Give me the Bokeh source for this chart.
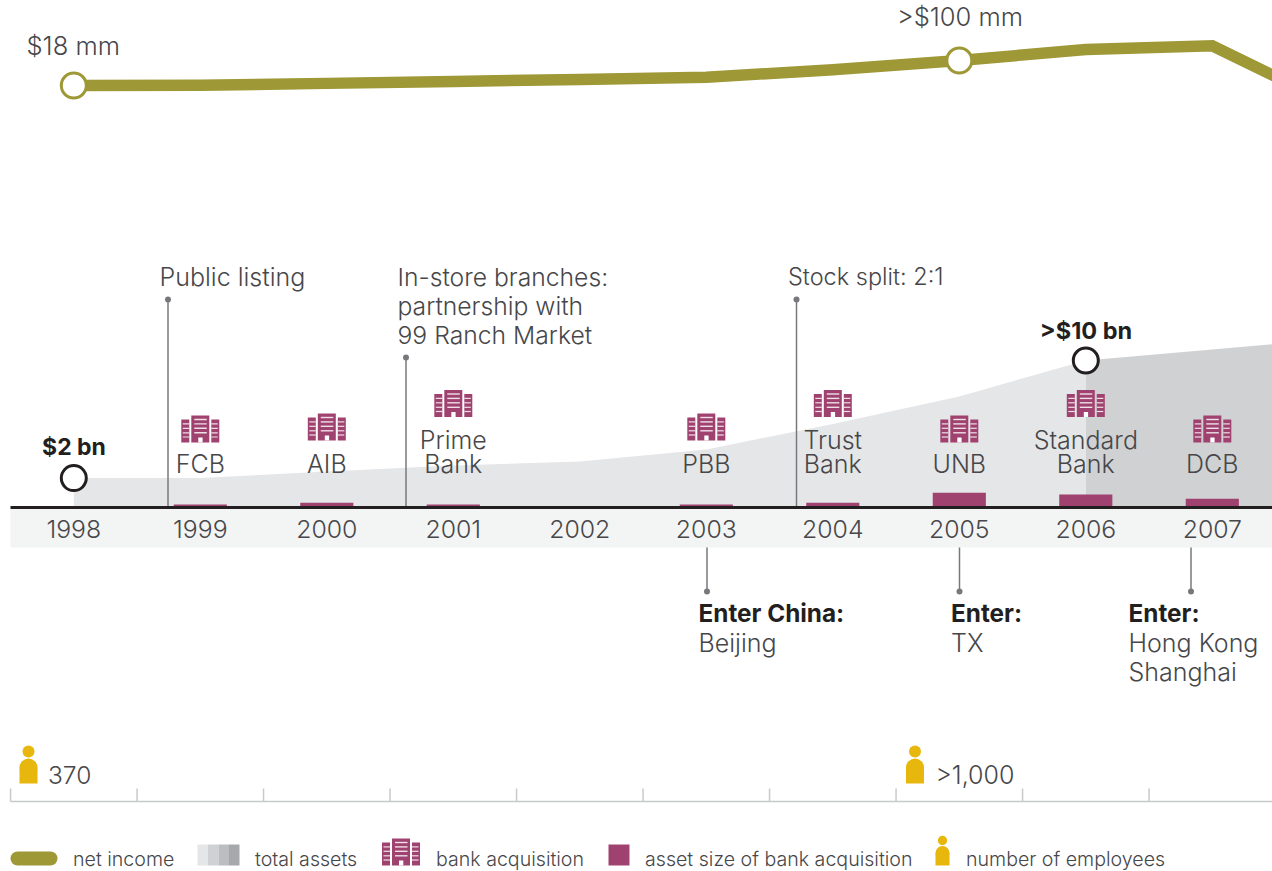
from bokeh.core.properties import value
from bokeh.embed import file_html
from bokeh.models import ColumnDataSource, Range1d
from bokeh.plotting import figure
from bokeh.resources import INLINE

# ---- chart data ----
YEARS = [1998, 1999, 2000, 2001, 2002, 2003, 2004, 2005, 2006, 2007]

INCOME_YEARS = [1998, 1999, 2000, 2001, 2002, 2003, 2004, 2005, 2006, 2007, 2008]
NET_INCOME_MM = [18, 19, 25, 31, 38, 45, 70, 100, 136, 148, -54]

ASSET_YEARS = [1998, 1999, 2000, 2001, 2002, 2003, 2004, 2005, 2006, 2007, 2008]
TOTAL_ASSETS_BN = [2.0, 2.0, 2.45, 2.86, 3.13, 3.95, 5.68, 7.55, 10.0, 10.75, 11.5]

DEAL_YEARS = [1999, 2000, 2001, 2003, 2004, 2005, 2006, 2007]
DEAL_NAMES = [["FCB"], ["AIB"], ["Prime", "Bank"], ["PBB"], ["Trust", "Bank"], ["UNB"], ["Standard", "Bank"], ["DCB"]]
DEAL_ASSETS_BN = [0.2, 0.33, 0.2, 0.2, 0.33, 1.0, 0.88, 0.6]

UP_EVENTS = [(167.5, 299, ["Public listing"], 25), (405.5, 357, ["In-store branches:", "partnership with", "99 Ranch Market"], 24.7), (796, 299, ["Stock split: 2:1"], 23.5)]
DOWN_EVENTS = [(706.5, 698, "Enter China:", ["Beijing"]), (959, 950.5, "Enter:", ["TX"]), (1190.5, 1128, "Enter:", ["Hong Kong", "Shanghai"])]

# ---- palette and fonts ----
OLIVE = "#9e9836"
PLUM = "#a0426f"
GOLD = "#e8b70d"
INK = "#231f20"
TEXT = "#47474a"
STEM = "#77787b"
RULE = "#c8c9cb"
ASSET_SHADES = ["#e5e6e8", "#d0d1d3", "#bcbdc0", "#a7a8ab"]
FONT = "Inter Light"
BOLD_FONT = "Inter"

W, H = 1272, 871
YEAR_PX = 126.5
X0_PX = 73.3
BASE_PX = 507.0
ASSET_PX = 14.7
INCOME_ZERO_PX = 90.5
INCOME_PX = 0.305


def year_px(y):
    return X0_PX + (y - 1998) * YEAR_PX


p = figure(width=W, height=H, output_backend="svg", toolbar_location=None,
           x_range=Range1d(0, W), y_range=Range1d(H, 0), min_border=0,
           x_axis_location=None, y_axis_location=None)
p.outline_line_color = None
p.grid.visible = False
p.background_fill_color = "#ffffff"
p.border_fill_color = "#ffffff"

# data scales sharing the page frame
p.extra_x_ranges["year"] = Range1d(1998 - X0_PX / YEAR_PX, 1998 + (W - X0_PX) / YEAR_PX)
p.extra_y_ranges["assets"] = Range1d((BASE_PX - H) / ASSET_PX, BASE_PX / ASSET_PX)
p.extra_y_ranges["income"] = Range1d((INCOME_ZERO_PX - H) / INCOME_PX, INCOME_ZERO_PX / INCOME_PX)


def label(x, y, s, size=25, font=FONT, color=TEXT, align="left", style="normal"):
    p.text([x], [y - 1], text=[s], text_font=value(font), text_font_size=f"{size}px",
           text_color=color, text_align=align, text_baseline="middle", text_font_style=style)


def building(cx, top, scale=1.0):
    """Bank icon: a tower between two wings with light window stripes."""
    def X(d):
        return cx + d * scale

    def Y(d):
        return top + d * scale
    p.quad(left=[X(-19), X(-9), X(11)], right=[X(-11), X(9), X(19)],
           top=[Y(4), Y(0), Y(4)], bottom=[Y(27), Y(27), Y(27)], fill_color=PLUM, line_color=None)
    stripes_c = [4, 8.4, 12.8, 17.3]
    p.quad(left=[X(-6)] * 4, right=[X(6.5)] * 4, top=[Y(d - 0.7) for d in stripes_c],
           bottom=[Y(d + 0.7) for d in stripes_c], fill_color="#efdfe7", line_color=None)
    stripes_w = [8.4, 12.8, 17.3, 21.5]
    for a, b in ((-17.5, -11), (11, 17.5)):
        p.quad(left=[X(a)] * 4, right=[X(b)] * 4, top=[Y(d - 0.6) for d in stripes_w],
               bottom=[Y(d + 0.6) for d in stripes_w], fill_color="#efdfe7", line_color=None)
    p.quad(left=[X(-2)], right=[X(2.3)], top=[Y(22)], bottom=[Y(27)], fill_color="#ffffff", line_color=None)


def person(cx, head_y, foot_y, scale=1.0):
    """Employee icon: round head over a body with a domed top."""
    r = 9 * scale
    top = head_y + 7 * scale
    p.circle([cx], [head_y], radius=6 * scale, fill_color=GOLD, line_color=None)
    p.quad(left=[cx - r], right=[cx + r], top=[top + r], bottom=[foot_y], fill_color=GOLD, line_color=None)
    p.circle([cx], [top + r], radius=r, fill_color=GOLD, line_color=None)


# total assets: lighter through 2006, darker afterwards
split = ASSET_YEARS.index(2006)
p.varea(x=ASSET_YEARS[:split + 1], y1=[0] * (split + 1), y2=TOTAL_ASSETS_BN[:split + 1],
        x_range_name="year", y_range_name="assets", fill_color=ASSET_SHADES[0])
p.varea(x=ASSET_YEARS[split:], y1=[0] * (len(ASSET_YEARS) - split), y2=TOTAL_ASSETS_BN[split:],
        x_range_name="year", y_range_name="assets", fill_color=ASSET_SHADES[1])

# year band
p.quad(left=[10], right=[W], top=[508], bottom=[547], fill_color="#f3f4f4", line_color=None)

# event stems above the axis
for x, top, lines, size in UP_EVENTS:
    p.segment([x], [top], [x], [BASE_PX], line_color=STEM, line_width=1.5)
    p.circle([x], [top], radius=3, fill_color=STEM, line_color=None)
    for i, s in enumerate(lines):
        label(x - 8.5, 277 + i * 29.3, s, size=size)

# acquisition size bars
deals = ColumnDataSource(dict(x=DEAL_YEARS, top=DEAL_ASSETS_BN, bottom=[0] * len(DEAL_YEARS)))
p.vbar(x="x", top="top", bottom="bottom", width=0.42, source=deals, x_range_name="year",
       y_range_name="assets", fill_color=PLUM, line_color=None)

# axis baseline
p.segment([10], [BASE_PX], [W], [BASE_PX], line_color=INK, line_width=3)

# acquisitions: icon plus name
ICON_TOPS = {1: 415, 2: 389.5}
for year, names in zip(DEAL_YEARS, DEAL_NAMES):
    cx = year_px(year)
    top = 413 if year in (2000, 2003) else ICON_TOPS[len(names)]
    building(cx, top)
    for i, s in enumerate(reversed(names)):
        label(cx, 464 - i * 24, s, align="center")

# year labels
for y in YEARS:
    label(year_px(y), 529, str(y), size=24.8, align="center")

# net income line
p.line(INCOME_YEARS, NET_INCOME_MM, x_range_name="year", y_range_name="income",
       line_color=OLIVE, line_width=11.5, line_join="miter")
p.scatter([1998, 2005], [18, 100], x_range_name="year", y_range_name="income", size=25,
          fill_color="#ffffff", line_color=OLIVE, line_width=3)
label(26, 46, "$18 mm", size=25.5)
label(896.5, 17, ">$100 mm", size=25.5)

# total assets call-outs
p.scatter([1998, 2006], [2, 10], x_range_name="year", y_range_name="assets", size=25,
          fill_color="#ffffff", line_color=INK, line_width=3)
label(73.5, 447, "$2 bn", size=23, font=BOLD_FONT, color=INK, align="center", style="bold")
label(1085.5, 331, ">$10 bn", size=23.5, font=BOLD_FONT, color=INK, align="center", style="bold")

# market entries below the axis
for x, tx, head, lines in DOWN_EVENTS:
    p.segment([x], [547], [x], [591], line_color=STEM, line_width=1.5)
    p.circle([x], [591], radius=3, fill_color=STEM, line_color=None)
    label(tx, 613, head, size=24.3, font=BOLD_FONT, color=INK, style="bold")
    for i, s in enumerate(lines):
        label(tx, 643 + i * 29, s)

# headcount ruler
ticks = [y - 0.5 for y in YEARS]
p.segment(ticks, [788] * len(ticks), ticks, [801] * len(ticks), x_range_name="year", line_color=RULE, line_width=1.5)
p.segment([10], [801], [W], [801], line_color=RULE, line_width=1.5)
person(28, 751, 783)
label(47.5, 775, "370", size=24.5)
person(914.5, 751, 783)
label(935, 775, ">1,000")

# legend
p.line([17, 50], [858, 858], line_color=OLIVE, line_width=14, line_cap="round")
label(72.5, 859, "net income", size=19.6)
for i, c in enumerate(ASSET_SHADES):
    p.quad(left=[197 + i * 10.5], right=[197 + (i + 1) * 10.5], top=[844], bottom=[865], fill_color=c, line_color=None)
label(254.5, 859, "total assets", size=19.6)
building(400.5, 838)
label(435.5, 859, "bank acquisition", size=19.6)
p.quad(left=[608], right=[629], top=[844], bottom=[865], fill_color=PLUM, line_color=None)
label(644.5, 859, "asset size of bank acquisition", size=19.6)
person(942, 840, 865, scale=0.78)
label(965.5, 859, "number of employees", size=19.6)

open("out.html", "w").write(file_html(p, INLINE))
